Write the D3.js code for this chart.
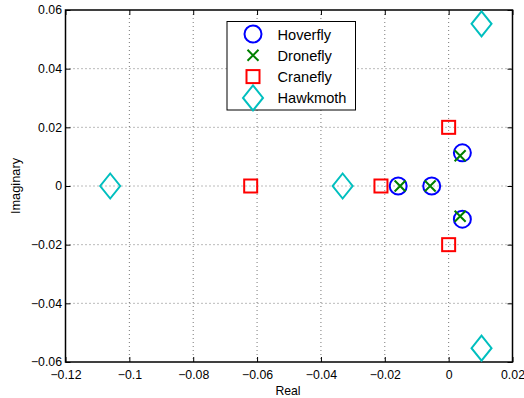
<!DOCTYPE html>
<html><head><meta charset="utf-8">
<script src="https://cdn.jsdelivr.net/npm/d3@7"></script>
<style>body{margin:0;background:#fff}svg{display:block}text{font-family:"Liberation Sans",Arial,sans-serif}</style>
</head><body><svg id="c" width="524" height="398"></svg>
<script>
const xTicks = [-0.12,-0.1,-0.08,-0.06,-0.04,-0.02,0,0.02];
const xTickLabels = ["\u22120.12","\u22120.1","\u22120.08","\u22120.06","\u22120.04","\u22120.02","0","0.02"];
const yTicks = [0.06,0.04,0.02,0,-0.02,-0.04,-0.06];
const yTickLabels = ["0.06","0.04","0.02","0","\u22120.02","\u22120.04","\u22120.06"];
const seriesNames = ["Hoverfly","Dronefly","Cranefly","Hawkmoth"];
const hoverflyRe = [-0.0158,-0.0053,0.0043,0.0043];
const hoverflyIm = [0,0,0.0113,-0.0113];
const droneflyRe = [-0.0152,-0.0058,0.0036,0.0036];
const droneflyIm = [0,0,0.0103,-0.0103];
const craneflyRe = [-0.062,-0.0212,0,0];
const craneflyIm = [0,0,0.02,-0.02];
const hawkmothRe = [-0.106,-0.0332,0.0103,0.0103];
const hawkmothIm = [0,0,0.0553,-0.0553];

const svg = d3.select("#c");
const L=65.5,R=512.5,T=10,B=362;
const x = d3.scaleLinear().domain([-0.12,0.02]).range([L,R]);
const y = d3.scaleLinear().domain([-0.06,0.06]).range([B,T]);

// grid
const g = svg.append("g");
g.selectAll(".gx").data(xTicks.slice(1,-1)).join("line")
 .attr("x1",d=>x(d)).attr("x2",d=>x(d)).attr("y1",T).attr("y2",B)
 .attr("stroke","#555").attr("stroke-width",0.8).attr("stroke-dasharray","1,3");
g.selectAll(".gy").data(yTicks.slice(1,-1)).join("line")
 .attr("y1",d=>y(d)).attr("y2",d=>y(d)).attr("x1",L).attr("x2",R)
 .attr("stroke","#555").attr("stroke-width",0.8).attr("stroke-dasharray","1,3");

// axes
const xa = d3.axisBottom(x).tickValues(xTicks).tickSizeInner(-5).tickSizeOuter(0).tickPadding(8).tickFormat((d,i)=>xTickLabels[i]);
const xt = d3.axisTop(x).tickValues(xTicks).tickSizeInner(-5).tickSizeOuter(0).tickFormat("");
const ya = d3.axisLeft(y).tickValues(yTicks).tickSizeInner(-5).tickSizeOuter(0).tickPadding(3.5).tickFormat((d,i)=>yTickLabels[i]);
const yr = d3.axisRight(y).tickValues(yTicks).tickSizeInner(-5).tickSizeOuter(0).tickFormat("");
function style(sel){sel.select(".domain").remove();sel.selectAll("line").attr("stroke","#000");sel.selectAll("text").attr("font-size",12.3).attr("fill","#000").attr("font-family","Liberation Sans, Arial, sans-serif");}
svg.append("g").attr("transform",`translate(0,${B})`).call(xa).call(style);
svg.append("g").attr("transform",`translate(0,${T})`).call(xt).call(style);
svg.append("g").attr("transform",`translate(${L},0)`).call(ya).call(style);
svg.append("g").attr("transform",`translate(${R},0)`).call(yr).call(style);
svg.append("rect").attr("x",L).attr("y",T).attr("width",R-L).attr("height",B-T).attr("fill","none").attr("stroke","#000").attr("stroke-width",1.5);

svg.append("text").attr("x",288).attr("y",394.5).attr("text-anchor","middle").attr("font-size",12.2).text("Real");
svg.append("text").attr("transform",`translate(20,${(T+B)/2}) rotate(-90)`).attr("text-anchor","middle").attr("font-size",12.8).text("Imaginary");

// markers
function marker(sel,type){
  if(type===0) sel.append("circle").attr("r",8.5).attr("fill","none").attr("stroke","#0000ff").attr("stroke-width",2);
  if(type===1) sel.append("path").attr("d","M-5.5,-5.5L5.5,5.5M-5.5,5.5L5.5,-5.5").attr("stroke","#008000").attr("stroke-width",2).attr("fill","none");
  if(type===2) sel.append("rect").attr("x",-6.5).attr("y",-6.5).attr("width",13).attr("height",13).attr("fill","none").attr("stroke","#ff0000").attr("stroke-width",2);
  if(type===3) sel.append("path").attr("d","M0,-12.5L10,0L0,12.5L-10,0Z").attr("fill","none").attr("stroke","#00bfbf").attr("stroke-width",2);
}
const series=[[hoverflyRe,hoverflyIm],[droneflyRe,droneflyIm],[craneflyRe,craneflyIm],[hawkmothRe,hawkmothIm]];
[0,1,2,3].forEach(k=>{
  const [re,im]=series[k];
  re.forEach((v,i)=>{
    const m=svg.append("g").attr("transform",`translate(${x(v)},${y(im[i])})`);
    marker(m,k);
  });
});

// legend
const lg=svg.append("g");
lg.append("rect").attr("x",227).attr("y",21.5).attr("width",128.5).attr("height",88.5).attr("fill","#fff").attr("stroke","#000").attr("stroke-width",1);
seriesNames.forEach((n,i)=>{
  const yy=34+i*21.3;
  const m=lg.append("g").attr("transform",`translate(253,${yy})`);
  marker(m,i);
  lg.append("text").attr("x",277.5).attr("y",yy+5.5).attr("font-size",14.6).text(n);
});
</script></body></html>
